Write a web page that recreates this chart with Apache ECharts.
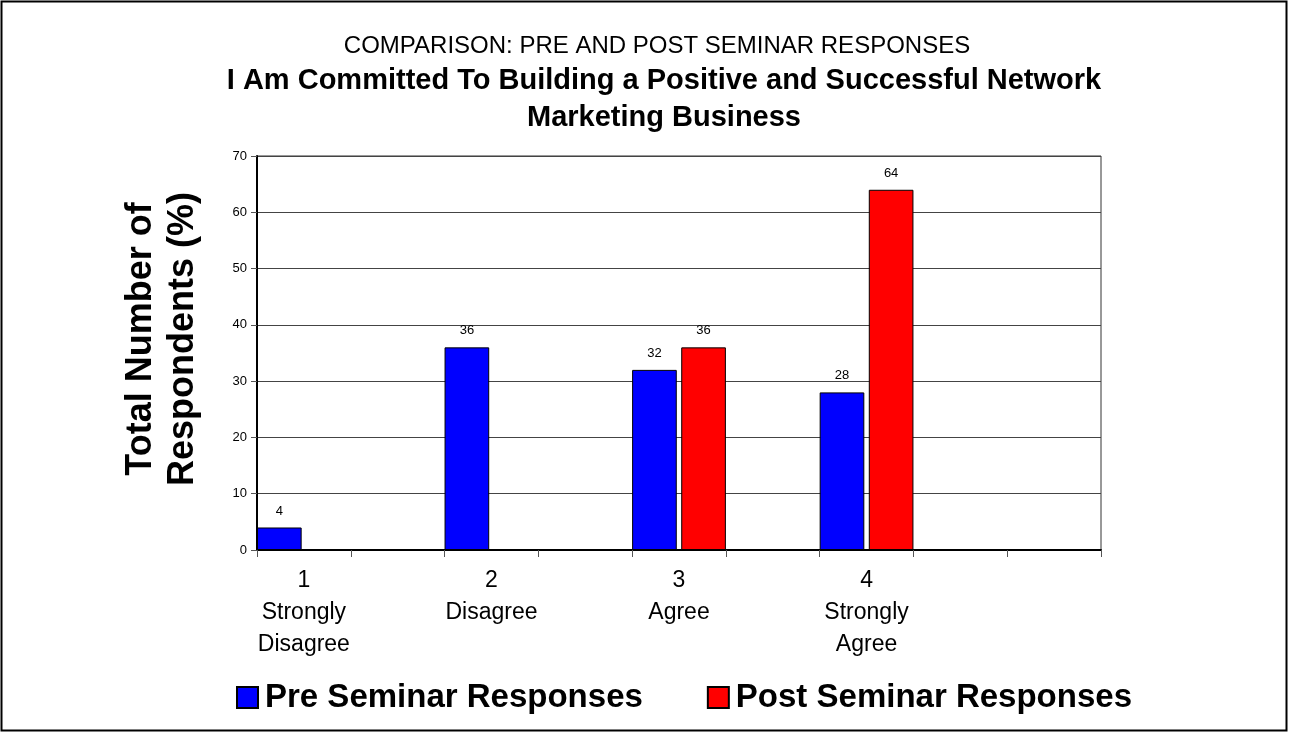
<!DOCTYPE html>
<html>
<head>
<meta charset="utf-8">
<style>
  html, body { margin: 0; padding: 0; background: #fff; }
  #chart { width: 1289px; height: 733px; }
</style>
<script src="https://cdn.jsdelivr.net/npm/echarts@6/dist/echarts.min.js"></script>
</head>
<body>
<div id="chart"></div>
<script>
// Survey scale positions; the blank slots leave gaps between response groups
const categories = ['1\nStrongly\nDisagree', '', '2\nDisagree', '', '3\nAgree', '', '4\nStrongly\nAgree', '', ''];
const preSeminar = [4, null, 36, null, 32, null, 28, null, null];
const postSeminar = [null, null, null, null, 36, null, 64, null, null];
const yTicks = [0, 10, 20, 30, 40, 50, 60, 70];

const FONT = 'Arial, "Liberation Sans", sans-serif';

const chart = echarts.init(document.getElementById('chart'), null, { renderer: 'canvas' });

const barLabel = {
  show: true,
  position: 'top',
  distance: 10,
  fontFamily: FONT,
  fontSize: 13,
  color: '#000'
};

chart.setOption({
  backgroundColor: '#fff',
  animation: false,
  title: [
    {
      text: 'COMPARISON: PRE AND POST SEMINAR RESPONSES',
      left: 652,
      top: 29,
      textAlign: 'center',
      textStyle: { fontFamily: FONT, fontSize: 24, fontWeight: 'normal', color: '#000' }
    },
    {
      text: 'I Am Committed To Building a Positive and Successful Network\nMarketing Business',
      left: 659,
      top: 57,
      textAlign: 'center',
      textStyle: { fontFamily: FONT, fontSize: 29, fontWeight: 'bold', color: '#000', lineHeight: 37 }
    }
  ],
  legend: {
    left: 236,
    top: 681,
    padding: 0,
    itemWidth: 21,
    itemHeight: 21,
    itemGap: 64,
    icon: 'rect',
    textStyle: { fontFamily: FONT, fontSize: 33, fontWeight: 'bold', color: '#000', padding: [0, 0, 0, 2] },
    data: ['Pre Seminar Responses', 'Post Seminar Responses']
  },
  grid: {
    left: 257,
    right: 188,
    top: 156,
    bottom: 183,
    show: true,
    borderColor: '#333',
    borderWidth: 1,
    containLabel: false
  },
  xAxis: {
    type: 'category',
    data: categories,
    axisLine: { lineStyle: { color: '#000', width: 2 } },
    axisTick: { show: true, alignWithLabel: false, length: 7, lineStyle: { color: '#555' } },
    axisLabel: {
      interval: 0,
      margin: 15,
      fontFamily: FONT,
      fontSize: 23,
      lineHeight: 32,
      color: '#000'
    },
    splitLine: { show: false }
  },
  yAxis: {
    type: 'value',
    min: yTicks[0],
    max: yTicks[yTicks.length - 1],
    interval: 10,
    name: 'Total Number of\nRespondents (%)',
    nameLocation: 'middle',
    nameRotate: 90,
    nameGap: 53,
    nameTextStyle: {
      fontFamily: FONT, fontSize: 36, fontWeight: 'bold', color: '#000', lineHeight: 42,
      padding: [0, 0, 0, 28]
    },
    axisLine: { show: true, lineStyle: { color: '#000', width: 2 } },
    axisTick: { show: true, length: 6, lineStyle: { color: '#555' } },
    axisLabel: { fontFamily: FONT, fontSize: 13, color: '#000', margin: 10 },
    splitLine: { show: true, lineStyle: { color: '#444', width: 1 } }
  },
  series: [
    {
      name: 'Pre Seminar Responses',
      type: 'bar',
      data: preSeminar,
      barCategoryGap: '0%',
      barGap: '10%',
      itemStyle: { color: '#0000ff', borderColor: '#000', borderWidth: 1 },
      label: barLabel
    },
    {
      name: 'Post Seminar Responses',
      type: 'bar',
      data: postSeminar,
      barCategoryGap: '0%',
      barGap: '10%',
      itemStyle: { color: '#ff0000', borderColor: '#000', borderWidth: 1 },
      label: barLabel
    }
  ],
  graphic: [
    {
      type: 'rect',
      silent: true,
      z: 100,
      shape: { x: 1.5, y: 1.5, width: 1285, height: 729 },
      style: { fill: 'none', stroke: '#000', lineWidth: 2 }
    }
  ]
});
</script>
</body>
</html>
